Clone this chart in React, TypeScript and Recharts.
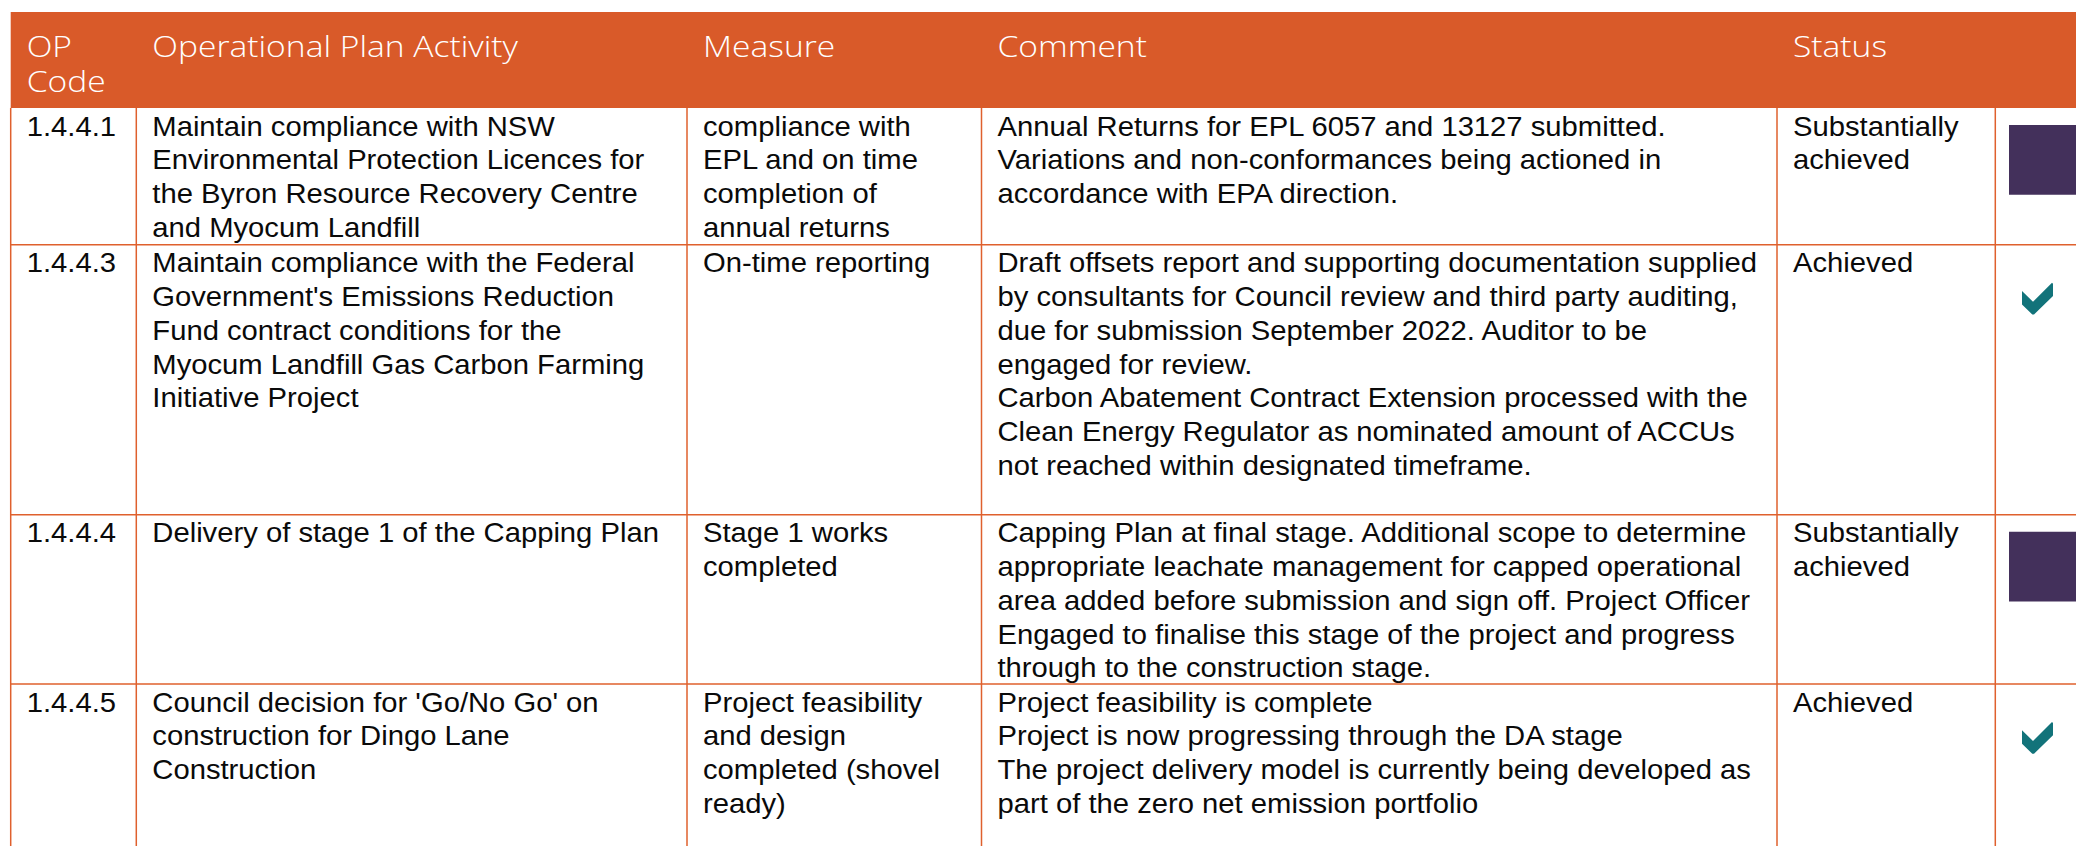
import { ComposedChart, XAxis, YAxis, ReferenceArea, ReferenceLine, Scatter } from 'recharts'

// table content
const headers = [['OP', 'Code'], ['Operational Plan Activity'], ['Measure'], ['Comment'], ['Status']]

const opCodes = ['1.4.4.1', '1.4.4.3', '1.4.4.4', '1.4.4.5']

const activities = [
  ['Maintain compliance with NSW', 'Environmental Protection Licences for', 'the Byron Resource Recovery Centre', 'and Myocum Landfill'],
  ["Maintain compliance with the Federal", "Government's Emissions Reduction", 'Fund contract conditions for the', 'Myocum Landfill Gas Carbon Farming', 'Initiative Project'],
  ['Delivery of stage 1 of the Capping Plan'],
  ["Council decision for 'Go/No Go' on", 'construction for Dingo Lane', 'Construction'],
]

const measures = [
  ['compliance with', 'EPL and on time', 'completion of', 'annual returns'],
  ['On-time reporting'],
  ['Stage 1 works', 'completed'],
  ['Project feasibility', 'and design', 'completed (shovel', 'ready)'],
]

const comments = [
  ['Annual Returns for EPL 6057 and 13127 submitted.', 'Variations and non-conformances being actioned in', 'accordance with EPA direction.'],
  [
    'Draft offsets report and supporting documentation supplied',
    'by consultants for Council review and third party auditing,',
    'due for submission September 2022. Auditor to be',
    'engaged for review.',
    'Carbon Abatement Contract Extension processed with the',
    'Clean Energy Regulator as nominated amount of ACCUs',
    'not reached within designated timeframe.',
  ],
  [
    'Capping Plan at final stage. Additional scope to determine',
    'appropriate leachate management for capped operational',
    'area added before submission and sign off. Project Officer',
    'Engaged to finalise this stage of the project and progress',
    'through to the construction stage.',
  ],
  [
    'Project feasibility is complete',
    'Project is now progressing through the DA stage',
    'The project delivery model is currently being developed as',
    'part of the zero net emission portfolio',
  ],
]

const statuses = [['Substantially', 'achieved'], ['Achieved'], ['Substantially', 'achieved'], ['Achieved']]

const statusIcons = ['square', 'check', 'square', 'check']

// layout
const W = 2076
const H = 846
const colEdges = [10.7, 136.3, 687, 981.5, 1777, 1995.3]
const rowTops = [108, 244.7, 514.7, 684]
const headerTop = 12
const headerBottom = 108
const PAD = 16
const BASE = 27.5
const LINE = 33.8

const ORANGE = '#D95A29'
const GRID = '#DF602D'
const PURPLE = '#43305B'
const TEAL = '#12737A'

const bodyColumns = [opCodes.map((c) => [c]), activities, measures, comments, statuses]

const bodyCells = bodyColumns.flatMap((col, c) =>
  col.map((lines, r) => ({ x: colEdges[c] + PAD, y: rowTops[r], lines }))
)

const headerCells = headers.map((lines, c) => ({ x: colEdges[c] + PAD, y: headerTop, lines }))

const checkCells = statusIcons
  .map((icon, r) => ({ icon, x: colEdges[5] + 31.4, y: rowTops[r] + 38 }))
  .filter((d) => d.icon === 'check')

const BodyText = ({ cx, cy, payload }: any) => (
  <g>
    {payload.lines.map((line: string, i: number) => (
      <text
        key={i}
        transform={`translate(${cx} ${cy + BASE + i * LINE}) scale(1.063 1)`}
        fill="#0a0a0a"
        fontFamily="'Liberation Sans', Arial, sans-serif"
        fontSize={27.5}
      >
        {line}
      </text>
    ))}
  </g>
)

const HeaderText = ({ cx, cy, payload }: any) => (
  <text
    transform={`translate(${cx} ${cy + 45}) scale(1.12 1)`}
    fill="#ffffff"
    fontFamily="'Open Sans', sans-serif"
    fontWeight={300}
    fontSize={30}
  >
    {payload.lines.map((line: string, i: number) => (
      <tspan key={i} x={0} y={i * 35}>
        {line}
      </tspan>
    ))}
  </text>
)

const CheckMark = ({ cx, cy }: any) => {
  const pts = [
    [0, 8.3], [11, 19], [30, 0], [31, 1], [31, 13.3], [12, 31.7], [10.3, 31.7], [0, 21.7],
  ]
  return <polygon points={pts.map(([px, py]) => `${cx - 4.7 + px},${cy + py}`).join(' ')} fill={TEAL} />
}

export default function App() {
  return (
    <div style={{ position: 'absolute', left: 0, top: 0, width: W, height: H, background: '#fff' }}>
      <ComposedChart width={W} height={H} margin={{ top: 0, right: 0, bottom: 0, left: 0 }}>
        <XAxis type="number" dataKey="x" domain={[0, W]} allowDataOverflow hide />
        <YAxis type="number" dataKey="y" domain={[0, H]} allowDataOverflow reversed hide />
        <ReferenceArea x1={colEdges[0]} x2={W} y1={headerTop} y2={headerBottom} fill={ORANGE} fillOpacity={1} stroke="none" />
        {colEdges.map((x) => (
          <ReferenceLine key={`v${x}`} segment={[{ x, y: headerBottom }, { x, y: H }]} stroke={GRID} strokeWidth={1.5} />
        ))}
        {rowTops.slice(1).map((y) => (
          <ReferenceLine key={`h${y}`} segment={[{ x: colEdges[0], y }, { x: W, y }]} stroke={GRID} strokeWidth={1.5} />
        ))}
        {statusIcons.map((icon, r) =>
          icon === 'square' ? (
            <ReferenceArea key={`sq${r}`} x1={2009} x2={W} y1={rowTops[r] + 17} y2={rowTops[r] + 86.7} fill={PURPLE} fillOpacity={1} stroke="none" />
          ) : null
        )}
        <Scatter data={headerCells} shape={<HeaderText />} isAnimationActive={false} />
        <Scatter data={bodyCells} shape={<BodyText />} isAnimationActive={false} />
        <Scatter data={checkCells} shape={<CheckMark />} isAnimationActive={false} />
      </ComposedChart>
    </div>
  )
}
